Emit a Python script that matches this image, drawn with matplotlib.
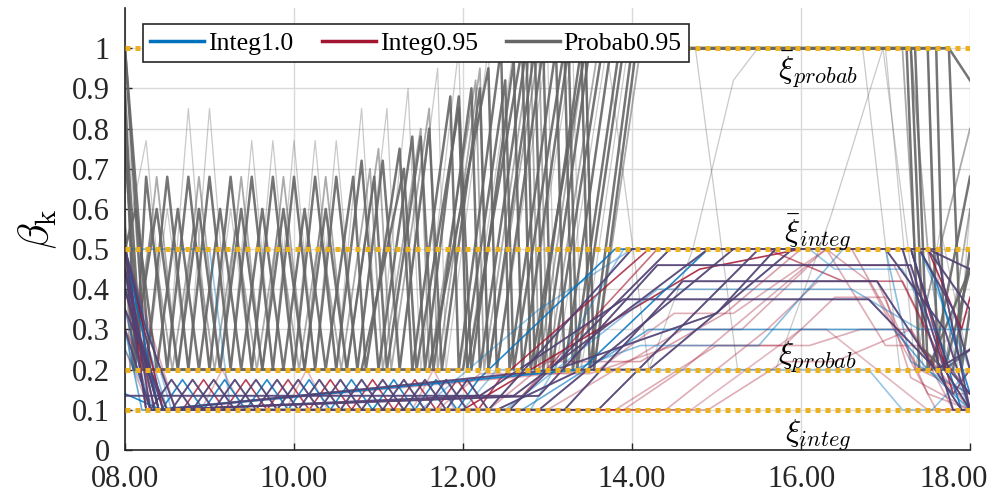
import matplotlib
matplotlib.use('Agg')
import matplotlib.pyplot as plt
from matplotlib.transforms import ScaledTranslation

plt.rcParams['font.family'] = ['Liberation Serif', 'DejaVu Serif']
plt.rcParams['mathtext.fontset'] = 'cm'

# time of day (hours) and beta_k at the break points of every run

# Probab0.95 - dark runs
probab_dark = [
    ([8.0, 8.25, 8.5, 8.75, 9.0, 9.25, 9.5, 9.75, 10.0, 10.25, 10.5, 10.75, 11.05, 11.25, 11.6, 11.75,
      12.2, 12.3, 12.85, 12.95, 13.5, 17.25, 17.4, 17.55, 18.0],
     [1.0, 0.2, 0.68, 0.2, 0.68, 0.2, 0.68, 0.2, 0.68, 0.2, 0.68, 0.2, 0.72, 0.2, 0.8, 0.2,
      0.9, 0.2, 1.0, 0.2, 1.0, 1.0, 0.2, 0.2, 0.68]),
    ([8.0, 8.12, 8.25, 8.5, 8.75, 9.0, 9.25, 9.5, 9.75, 10.0, 10.25, 10.5, 10.8, 11.0, 11.4, 11.55,
      11.95, 12.1, 12.6, 12.7, 13.25, 13.35, 13.9, 17.5, 17.62, 17.8, 18.0],
     [0.9, 0.2, 0.68, 0.2, 0.68, 0.2, 0.68, 0.2, 0.68, 0.2, 0.68, 0.2, 0.72, 0.2, 0.78, 0.2,
      0.88, 0.2, 0.97, 0.2, 1.0, 0.2, 1.0, 1.0, 0.2, 0.2, 0.5]),
    ([8.0, 8.15, 8.375, 8.625, 8.875, 9.125, 9.375, 9.625, 9.875, 10.125, 10.375, 10.625, 10.95, 11.1,
      11.5, 11.65, 12.1, 12.2, 12.75, 12.85, 13.4, 13.5, 14.0, 17.75, 17.9, 18.0],
     [0.75, 0.3, 0.6, 0.2, 0.6, 0.2, 0.6, 0.2, 0.6, 0.2, 0.6, 0.2, 0.68, 0.2,
      0.78, 0.2, 0.9, 0.2, 1.0, 0.2, 1.0, 0.2, 1.0, 1.0, 0.2, 0.35]),
    ([8.0, 8.125, 8.375, 8.625, 8.875, 9.125, 9.375, 9.625, 9.875, 10.125, 10.375, 10.7, 10.85, 11.25,
      11.4, 11.85, 11.95, 12.45, 12.55, 13.1, 13.2, 13.75, 17.75, 18.0],
     [0.5, 0.6, 0.2, 0.6, 0.2, 0.6, 0.2, 0.6, 0.2, 0.6, 0.2, 0.68, 0.2, 0.75,
      0.2, 0.88, 0.2, 1.0, 0.2, 1.0, 0.2, 1.0, 1.0, 0.92]),
    ([8.0, 8.3, 10.8, 11.3, 11.45, 11.95, 12.05, 12.7, 12.8, 13.45, 13.55, 14.05, 17.3, 17.45, 17.7, 18.0],
     [1.0, 0.2, 0.2, 0.7, 0.2, 0.85, 0.2, 1.0, 0.2, 1.0, 0.2, 1.0, 1.0, 0.25, 0.2, 0.45]),
    ([8.0, 8.1, 11.6, 12.3, 12.4, 12.95, 13.05, 13.65, 17.6, 17.7, 18.0],
     [0.55, 0.2, 0.2, 0.95, 0.2, 1.0, 0.2, 1.0, 1.0, 0.2, 0.25]),
    ([8.0, 8.2, 12.0, 12.5, 12.6, 13.2, 13.3, 13.85, 17.35, 17.5, 18.0],
     [0.85, 0.2, 0.2, 0.92, 0.2, 1.0, 0.2, 1.0, 1.0, 0.2, 0.45]),
]

# Probab0.95 - medium runs
probab_mid = [
    ([8.0, 8.125, 8.375, 8.625, 8.875, 9.125, 9.375, 9.625, 9.875, 10.125, 10.375, 10.625, 11.0, 11.15,
      11.6, 11.7, 12.2, 12.3, 12.9, 13.0, 13.6, 17.3, 17.5, 17.7, 18.0],
     [0.8, 0.2, 0.68, 0.2, 0.68, 0.2, 0.68, 0.2, 0.68, 0.2, 0.68, 0.2, 0.75, 0.2,
      0.85, 0.2, 0.95, 0.2, 1.0, 0.2, 1.0, 1.0, 0.5, 0.2, 0.6]),
    ([8.0, 8.06, 8.31, 8.56, 8.81, 9.06, 9.31, 9.56, 9.81, 10.06, 10.31, 10.56, 10.9, 11.05, 11.5, 11.6,
      12.15, 12.25, 12.8, 12.9, 13.45, 13.55, 14.1, 17.2, 17.4, 18.0],
     [0.6, 0.2, 0.55, 0.2, 0.55, 0.2, 0.55, 0.2, 0.55, 0.2, 0.55, 0.2, 0.7, 0.2, 0.8, 0.2,
      0.92, 0.2, 1.0, 0.2, 1.0, 0.2, 1.0, 1.0, 0.3, 0.8]),
]

# Probab0.95 - faint runs
probab_light = [
    ([8.0, 8.25, 8.5, 8.75, 9.0, 9.25, 9.5, 9.75, 10.0, 10.25, 10.5, 10.8, 11.0, 11.35, 11.5, 11.95,
      12.05, 12.6, 12.7, 13.3, 13.4, 13.95, 14.75, 15.25, 15.7, 16.35, 16.97, 17.45, 18.0],
     [0.5, 0.77, 0.2, 0.85, 0.2, 0.6, 0.2, 0.77, 0.2, 0.77, 0.2, 0.85, 0.2, 0.9, 0.2, 1.0,
      0.2, 1.0, 0.2, 1.0, 0.2, 1.0, 1.0, 0.2, 0.2, 0.58, 1.0, 0.2, 0.35]),
    ([8.0, 8.25, 8.5, 8.75, 9.0, 9.25, 9.5, 9.75, 10.0, 10.25, 10.5, 10.75, 11.1, 11.25, 11.7, 11.8,
      12.3, 12.4, 13.0, 13.1, 13.7, 14.2, 14.72, 15.2, 15.49, 16.73, 17.17, 18.0],
     [0.9, 0.2, 0.6, 0.2, 0.85, 0.2, 0.77, 0.2, 0.77, 0.2, 0.77, 0.2, 0.85, 0.2, 0.95, 0.2,
      1.0, 0.2, 1.0, 0.2, 1.0, 0.2, 0.5, 0.92, 1.0, 1.0, 0.2, 0.2]),
    ([13.95, 17.0, 17.35, 17.65, 18.0], [1.0, 1.0, 0.2, 0.55, 0.2]),
    ([13.95, 17.5, 17.6, 17.85, 18.0], [1.0, 1.0, 0.45, 0.2, 0.6]),
]

# runs where Integ1.0 and Integ0.95 coincide
integ_both = [
    ([8.0, 8.3, 8.55, 8.8, 9.05, 9.3, 9.55, 9.8, 10.05, 10.3, 10.55, 10.8, 11.05, 11.3, 11.55, 11.8,
      12.05, 12.3, 14.0, 17.6, 18.0],
     [0.5, 0.1, 0.175, 0.1, 0.175, 0.1, 0.175, 0.1, 0.175, 0.1, 0.175, 0.1, 0.175, 0.1, 0.175, 0.1,
      0.175, 0.1, 0.5, 0.5, 0.1]),
    ([8.0, 8.25, 8.55, 8.8, 9.05, 9.3, 9.55, 9.8, 10.05, 10.3, 10.55, 10.8, 11.05, 11.3, 11.55, 11.8,
      12.05, 12.55, 14.45, 17.3, 17.75, 18.0],
     [0.45, 0.1, 0.1, 0.175, 0.1, 0.175, 0.1, 0.175, 0.1, 0.175, 0.1, 0.175, 0.1, 0.175, 0.1, 0.175,
      0.1, 0.1, 0.5, 0.5, 0.2, 0.14]),
    ([8.0, 12.6, 14.9, 17.5, 18.0], [0.135, 0.135, 0.5, 0.5, 0.45]),
    ([8.0, 8.15, 8.4, 12.9, 15.2, 17.0, 17.7, 18.0], [0.5, 0.3, 0.1, 0.1, 0.5, 0.5, 0.3, 0.1]),
    ([8.0, 8.45, 13.2, 14.6, 16.9, 17.9, 18.0], [0.4, 0.1, 0.1, 0.42, 0.42, 0.1, 0.1]),
    ([8.0, 8.5, 12.2, 13.9, 16.8, 17.6, 18.0], [0.35, 0.1, 0.135, 0.375, 0.375, 0.2, 0.25]),
    ([8.0, 8.25, 8.6, 13.6, 15.5, 17.2, 17.8, 18.0], [0.5, 0.3, 0.1, 0.1, 0.5, 0.5, 0.1, 0.1]),
    ([8.0, 8.3, 12.4, 13.4, 14.2, 15.9, 17.5, 18.0], [0.3, 0.1, 0.1, 0.2, 0.2, 0.5, 0.5, 0.35]),
    ([8.0, 8.35, 12.9, 14.3, 17.3, 17.7, 18.0], [0.45, 0.1, 0.135, 0.46, 0.46, 0.2, 0.1]),
    ([8.0, 8.4, 13.1, 15.0, 15.7, 17.4, 17.8, 18.0], [0.4, 0.1, 0.2, 0.34, 0.5, 0.5, 0.35, 0.2]),
]

# Integ1.0 only
integ_blue = [
    ([8.0, 9.0, 9.25, 12.8, 13.9, 17.4, 18.0], [0.5, 0.5, 0.1, 0.1, 0.5, 0.5, 0.2]),
    ([8.0, 8.43, 8.68, 8.93, 9.18, 9.43, 9.68, 9.93, 10.18, 10.43, 10.68, 10.93, 11.18, 11.43, 11.68,
      11.93, 12.18, 13.8, 17.3, 17.9, 18.0],
     [0.14, 0.1, 0.175, 0.1, 0.175, 0.1, 0.175, 0.1, 0.175, 0.1, 0.175, 0.1, 0.175, 0.1, 0.175,
      0.1, 0.175, 0.5, 0.5, 0.1, 0.1]),
    ([8.0, 8.5, 12.5, 14.3, 16.6, 17.4, 18.0], [0.45, 0.1, 0.1, 0.4, 0.4, 0.3, 0.3]),
    ([8.0, 8.55, 11.5, 12.9, 14.0, 16.1, 16.4, 17.2, 17.7, 18.0],
     [0.5, 0.1, 0.1, 0.35, 0.5, 0.5, 0.45, 0.45, 0.25, 0.1]),
    ([8.0, 8.4, 13.4, 14.9, 17.4, 17.6, 18.0], [0.5, 0.1, 0.2, 0.5, 0.5, 0.42, 0.14]),
    ([8.0, 8.35, 12.0, 12.4, 16.8, 17.2, 17.55, 18.0], [0.25, 0.1, 0.1, 0.2, 0.2, 0.1, 0.1, 0.2]),
    ([8.0, 8.2, 12.7, 14.2, 17.1, 17.5, 18.0], [0.3, 0.1, 0.1, 0.3, 0.3, 0.2, 0.1]),
    ([8.0, 8.3, 13.3, 14.1, 15.5, 16.5, 17.0, 17.3, 18.0], [0.35, 0.1, 0.2, 0.26, 0.26, 0.5, 0.5, 0.22, 0.14]),
]
blue_alpha = [0.4, 0.85, 0.45, 0.4, 0.85, 0.4, 0.6, 0.45]

# Integ0.95 only
integ_red = [
    ([8.0, 8.45, 8.68, 8.93, 9.18, 9.43, 9.68, 9.93, 10.18, 10.43, 10.68, 10.93, 11.18, 11.43, 11.68,
      11.93, 12.18, 12.43, 14.2, 17.3, 17.8, 18.0],
     [0.5, 0.1, 0.1, 0.175, 0.1, 0.175, 0.1, 0.175, 0.1, 0.175, 0.1, 0.175, 0.1, 0.175, 0.1,
      0.175, 0.1, 0.175, 0.5, 0.5, 0.14, 0.2]),
    ([8.0, 8.4, 13.0, 14.6, 15.3, 16.1, 17.1, 17.7, 18.0], [0.45, 0.1, 0.1, 0.3, 0.3, 0.46, 0.46, 0.2, 0.1]),
    ([8.0, 8.35, 12.3, 13.0, 14.1, 15.1, 16.0, 16.6, 17.4, 18.0],
     [0.4, 0.1, 0.1, 0.22, 0.22, 0.34, 0.5, 0.5, 0.2, 0.14]),
    ([8.0, 8.5, 11.7, 12.2, 13.5, 14.5, 15.8, 16.4, 17.0, 17.3, 18.0],
     [0.3, 0.1, 0.1, 0.19, 0.19, 0.26, 0.26, 0.38, 0.38, 0.18, 0.1]),
    ([8.0, 8.3, 14.4, 15.6, 16.2, 16.9, 17.5, 18.0], [0.25, 0.1, 0.1, 0.3, 0.42, 0.42, 0.14, 0.1]),
    ([8.0, 8.6, 13.8, 15.0, 16.1, 16.7, 17.3, 17.8, 18.0], [0.5, 0.1, 0.1, 0.26, 0.26, 0.3, 0.3, 0.1, 0.1]),
    ([8.0, 8.45, 12.7, 14.3, 15.6, 16.5, 17.2, 17.6, 18.0], [0.5, 0.1, 0.135, 0.5, 0.5, 0.42, 0.42, 0.25, 0.14]),
    ([8.0, 8.3, 14.9, 15.8, 16.4, 17.3, 17.8, 18.0], [0.35, 0.1, 0.1, 0.22, 0.22, 0.3, 0.14, 0.14]),
    ([8.0, 8.25, 12.0, 14.8, 16.0, 17.5, 17.9, 18.0], [0.5, 0.1, 0.1, 0.45, 0.5, 0.5, 0.3, 0.38]),
    ([8.0, 8.3, 8.9, 9.15, 9.4, 9.9, 10.15, 10.4, 11.4, 11.65, 11.9, 14.7, 16.0, 16.3, 17.5, 18.0],
     [0.45, 0.1, 0.1, 0.2, 0.1, 0.1, 0.2, 0.1, 0.1, 0.2, 0.1, 0.1, 0.3, 0.3, 0.1, 0.1]),
    ([8.0, 8.4, 13.6, 14.5, 15.2, 16.3, 16.8, 17.6, 18.0], [0.5, 0.1, 0.2, 0.34, 0.34, 0.5, 0.42, 0.1, 0.1]),
    ([8.0, 8.35, 13.9, 14.6, 16.3, 17.0, 17.4, 18.0], [0.4, 0.1, 0.1, 0.2, 0.5, 0.26, 0.26, 0.1]),
]
red_alpha = [0.8, 0.35, 0.4, 0.35, 0.35, 0.35, 0.6, 0.35, 0.85, 0.3, 0.35, 0.35]

# bounds on beta
bound_levels = [1.0, 0.5, 0.2, 0.1]
bound_labels = [r'$\bar{\xi}_{probab}$', r'$\bar{\xi}_{integ}$', r'$\xi_{probab}$', r'$\xi_{integ}$']
bound_label_y = [0.945, 0.54, 0.23, 0.037]
bound_label_x = 16.2

xticks = [8, 10, 12, 14, 16, 18]
xtick_labels = ['08.00', '10.00', '12.00', '14.00', '16.00', '18.00']
yticks = [0, 0.1, 0.2, 0.3, 0.4, 0.5, 0.6, 0.7, 0.8, 0.9, 1.0]
ytick_labels = ['0', '0.1', '0.2', '0.3', '0.4', '0.5', '0.6', '0.7', '0.8', '0.9', '1']

BLUE = '#0072BD'
RED = '#A2142F'
GRAY = '#666666'
YELLOW = '#EDB120'

fig = plt.figure(figsize=(9.96, 4.96), dpi=100)
ax = fig.add_axes([125 / 996, 46 / 496, 845 / 996, 442 / 496])

for t, v in probab_light:
    ax.plot(t, v, color=GRAY, lw=0.9, alpha=0.35)
for t, v in probab_mid:
    ax.plot(t, v, color=GRAY, lw=1.3, alpha=0.55)
for t, v in probab_dark:
    ax.plot(t, v, color=GRAY, lw=1.8, alpha=0.9)

for (t, v), a in zip(integ_red, red_alpha):
    ax.plot(t, v, color=RED, lw=1.2, alpha=a)
for (t, v), a in zip(integ_blue, blue_alpha):
    ax.plot(t, v, color=BLUE, lw=1.2, alpha=a)
for t, v in integ_both:
    ax.plot(t, v, color=BLUE, lw=1.3, alpha=0.85)
    ax.plot(t, v, color=RED, lw=1.3, alpha=0.5)

for lev, lab, ly in zip(bound_levels, bound_labels, bound_label_y):
    ax.axhline(lev, color=YELLOW, lw=3.6, dashes=(1, 1), zorder=5)
    ax.text(bound_label_x, ly, lab, fontsize=23, ha='center', va='center', zorder=6)

# legend proxies
ax.plot([], [], color=BLUE, lw=2.5, label='Integ1.0')
ax.plot([], [], color=RED, lw=2.5, label='Integ0.95')
ax.plot([], [], color=GRAY, lw=2.5, label='Probab0.95')
leg = ax.legend(loc='upper left', bbox_to_anchor=(0.021, 0.964), ncol=3, fontsize=18.5,
                frameon=True, fancybox=False, edgecolor='#262626', framealpha=1,
                borderaxespad=0, handlelength=2.1, columnspacing=1.1, borderpad=0.3,
                handletextpad=0.15)
leg.get_frame().set_linewidth(1.2)
leg.set_zorder(10)

ax.set_xlim(8, 18)
ax.set_ylim(0, 1.1)
ax.set_xticks(xticks)
ax.set_xticklabels(xtick_labels)
ax.set_yticks(yticks)
ax.set_yticklabels(ytick_labels)
ax.tick_params(direction='in', length=5, width=1, colors='#262626', labelsize=22)
ax.tick_params(axis='y', pad=11)
ax.tick_params(axis='x', pad=11)
ax.grid(True, color='#d9d9d9', lw=1.0)
ax.set_axisbelow(True)
for side in ['top', 'right']:
    ax.spines[side].set_visible(False)
for side in ['left', 'bottom']:
    ax.spines[side].set_linewidth(1.2)
    ax.spines[side].set_color('#262626')

# keep the last hour label inside the figure
last = ax.get_xticklabels()[-1]
last.set_transform(last.get_transform() + ScaledTranslation(-16 / 100, 0, fig.dpi_scale_trans))

ax.set_ylabel(r'$\beta_{\mathrm{k}}$', fontsize=30, labelpad=9)

fig.savefig('out.png', dpi=100)
